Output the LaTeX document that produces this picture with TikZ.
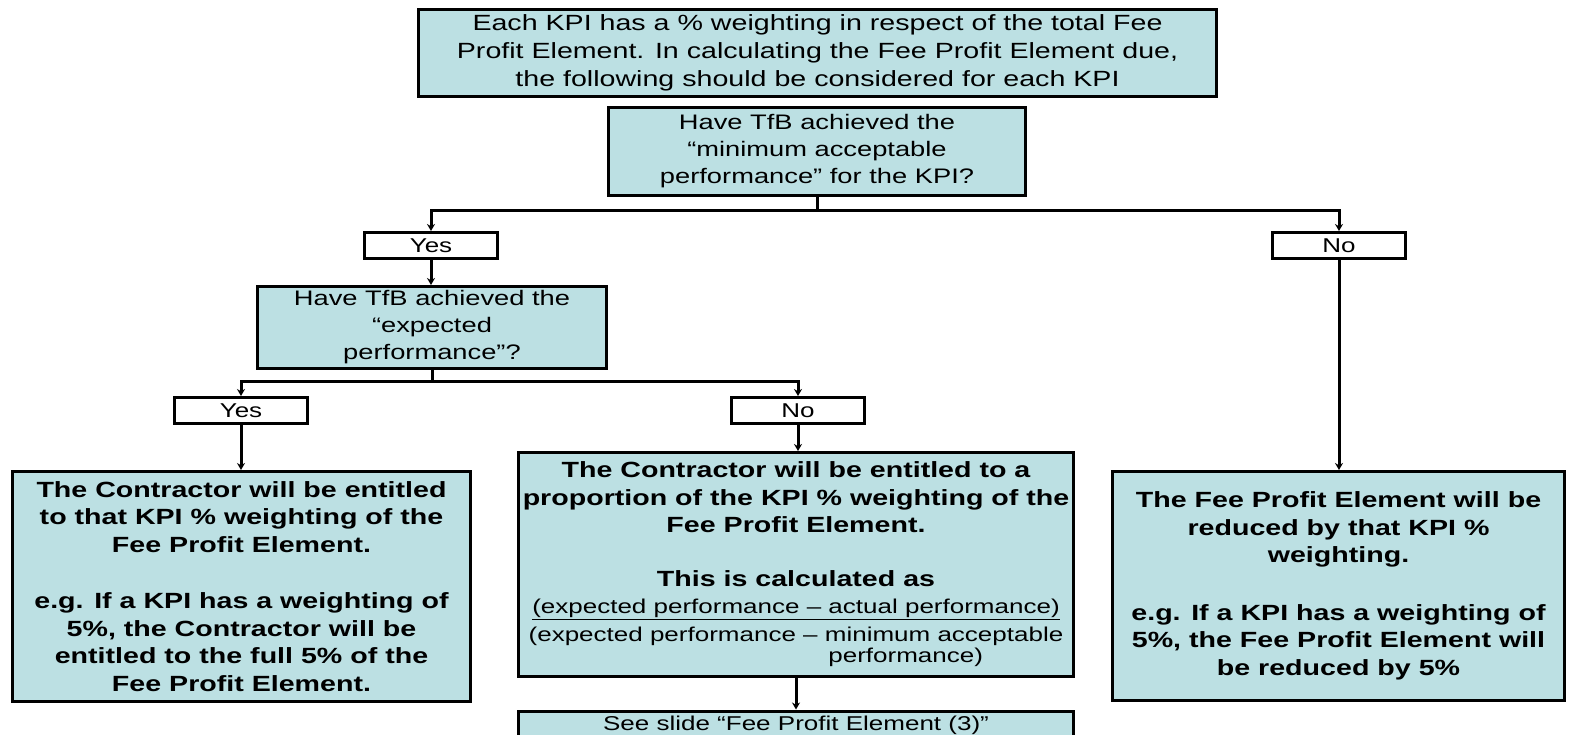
\documentclass[tikz,border=0pt]{standalone}
\usepackage{fontspec}
\setmainfont{Liberation Sans}[FakeStretch=1.3]
\usetikzlibrary{arrows.meta}
\definecolor{boxblue}{RGB}{188,224,227}
\begin{document}
\begin{tikzpicture}[x=1pt,y=-1pt,
  box/.style={draw=black,line width=3pt,fill=boxblue,inner sep=0pt,align=center},
  ynbox/.style={draw=black,line width=3pt,fill=white,inner sep=0pt,align=center,minimum width=133pt,minimum height=26pt,font=\fontsize{20}{24}\selectfont},
  qfont/.style={font=\fontsize{21}{27}\selectfont},
  bfont/.style={font=\bfseries\fontsize{22}{27.5}\selectfont},
  conn/.style={line width=3pt,draw=black},
  arr/.style={conn,-{Stealth[length=7pt,width=8pt]}}]
\useasboundingbox[fill=white] (0,0) rectangle (1571,734);

\node[box,minimum width=798pt,minimum height=87pt,font=\fontsize{22}{28}\selectfont] (top) at (817.5,53)
  {Each KPI has a \% weighting in respect of the total Fee\\Profit Element. In calculating the Fee Profit Element due,\\the following should be considered for each KPI};

\node[box,qfont,minimum width=417pt,minimum height=88pt] (q1) at (817,151.5)
  {Have TfB achieved the\\“minimum acceptable\\performance” for the KPI?};

\node[ynbox] (yes1) at (431,245.5) {Yes};
\node[ynbox] (no1) at (1339,245.5) {No};

\node[box,qfont,minimum width=349pt,minimum height=82pt] (q2) at (432,327.5)
  {Have TfB achieved the\\“expected\\performance”?};

\node[ynbox] (yes2) at (241,410.5) {Yes};
\node[ynbox] (no2) at (798,410.5) {No};

\node[box,bfont,minimum width=458pt,minimum height=230pt] (left) at (241.5,586.5)
  {The Contractor will be entitled\\to that KPI \% weighting of the\\Fee Profit Element.\\[29pt]
   e.g. If a KPI has a weighting of\\5\%, the Contractor will be\\entitled to the full 5\% of the\\Fee Profit Element.};

\node[box,bfont,minimum width=555pt,minimum height=224pt] (mid) at (796,564.5)
  {The Contractor will be entitled to a\\proportion of the KPI \% weighting of the\\Fee Profit Element.\\[26pt]
   This is calculated as\\
   {\mdseries\fontsize{20}{27}\selectfont\underline{(expected performance – actual performance)}}\\
   {\mdseries\fontsize{20}{27}\selectfont (expected performance – minimum acceptable}\\[-6pt]
   {\mdseries\fontsize{20}{27}\selectfont\makebox[534pt][r]{performance)\hspace{80pt}}}};

\node[box,bfont,minimum width=452pt,minimum height=229pt] (right) at (1338.5,586)
  {The Fee Profit Element will be\\reduced by that KPI \%\\weighting.\\[30pt]
   e.g. If a KPI has a weighting of\\5\%, the Fee Profit Element will\\be reduced by 5\%};

\node[box,minimum width=555pt,minimum height=28pt,font=\fontsize{20}{24}\selectfont] (bot) at (796,725)
  {See slide “Fee Profit Element (3)”};

\coordinate (j1) at (817,210);
\draw[conn] (q1.south) -- (j1);
\draw[arr] (j1) -| (yes1.north);
\draw[arr] (j1) -| (no1.north);
\draw[arr] (yes1.south) -- (yes1.south |- q2.north);
\coordinate (j2) at (432,381);
\draw[conn] (q2.south) -- (j2);
\draw[arr] (j2) -| (yes2.north);
\draw[arr] (j2) -| (no2.north);
\draw[arr] (yes2.south) -- (yes2.south |- left.north);
\draw[arr] (no2.south) -- (no2.south |- mid.north);
\draw[arr] (no1.south) -- (no1.south |- right.north);
\draw[arr] (mid.south) -- (bot.north);
\end{tikzpicture}
\end{document}
